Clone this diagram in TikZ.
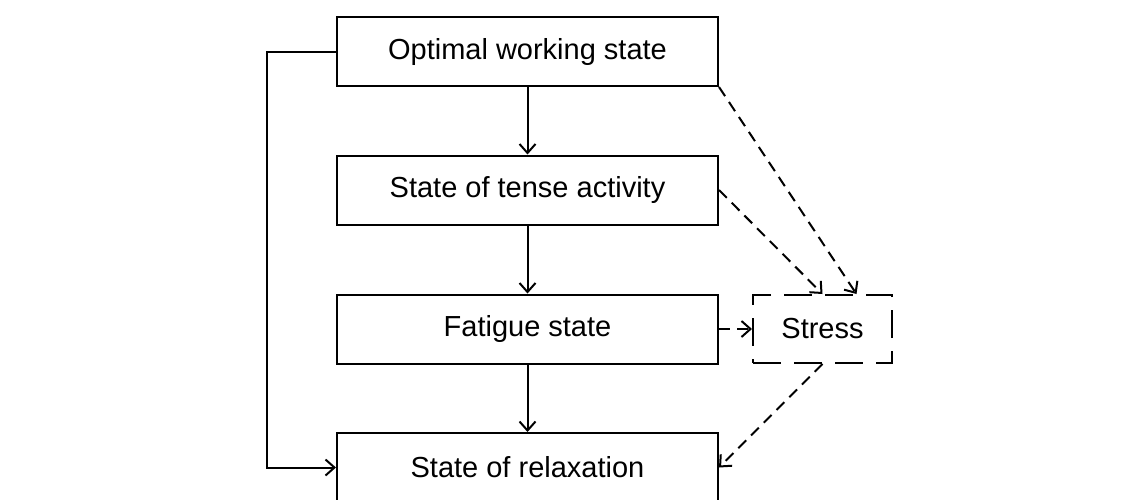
\documentclass[tikz,border=0pt]{standalone}
\usepackage{fontspec}
\setmainfont{Liberation Sans}
\usetikzlibrary{arrows.meta}
\begin{document}
\begin{tikzpicture}[x=1pt,y=-1pt,
    statebox/.style={draw, line width=2pt, minimum width=381pt, minimum height=69pt, inner sep=0pt, font=\fontsize{29}{34}\selectfont},
    stressbox/.style={statebox, minimum width=139pt, minimum height=68pt, dash pattern=on 28pt off 13pt},
    flow/.style={line width=2pt, -{Straight Barb[length=9pt,width=16pt]}},
    dflow/.style={flow, dash pattern=on 11pt off 7pt}]
    \useasboundingbox (0,0) rectangle (1143,499);

    % the four states, top to bottom
    \node[statebox] (optimal) at (527.5,51.5) {Optimal working state};
    \node[statebox] (tense) at (527.5,190) {State of tense activity};
    \node[statebox] (fatigue) at (527.5,329) {Fatigue state};
    \node[statebox] (relax) at (527.5,467.5) {State of relaxation};
    \node[stressbox] (stress) at (822.5,329) {Stress};

    % main chain
    \draw[flow] (optimal) -- (tense);
    \draw[flow] (tense) -- (fatigue);
    \draw[flow] (fatigue) -- (relax);
    \draw[flow] (optimal.west) -- ++(-69,0) |- (relax.west); % way back

    % towards stress and out of it
    \draw[dflow] (optimal.south east) -- ([xshift=34pt]stress.north);
    \draw[dflow] (tense.east) -- (stress.north);
    \draw[dflow] (fatigue) -- (stress);
    \draw[dflow] (stress.south) -- (relax.east);
\end{tikzpicture}
\end{document}
